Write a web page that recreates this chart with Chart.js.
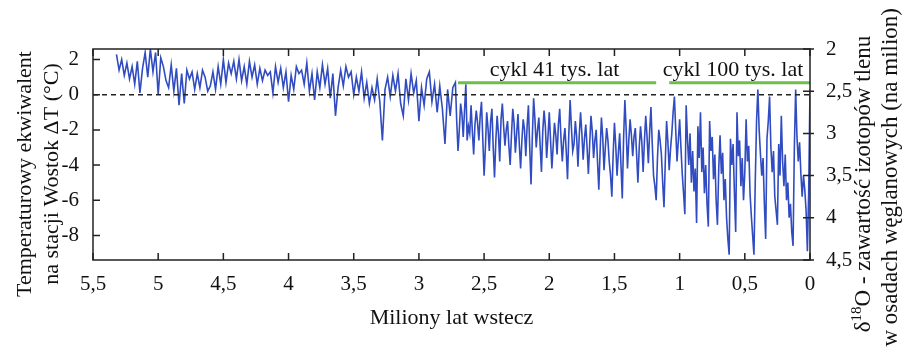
<!DOCTYPE html>
<html>
<head>
<meta charset="utf-8">
<script src="https://cdn.jsdelivr.net/npm/chart.js@4.4.0/dist/chart.umd.min.js"></script>
<style>
  html, body { margin: 0; padding: 0; background: #fff; }
  #wrap { width: 904px; height: 353px; }
</style>
</head>
<body>
<div id="wrap"><canvas id="chart"></canvas></div>
<script>
// Wiek (mln lat wstecz) i temperatura
const agesEarly = [
  5.32, 5.30, 5.28, 5.26, 5.24, 5.22,
  5.20, 5.18, 5.16, 5.14, 5.12,
  5.10, 5.08, 5.06, 5.04, 5.02,
  5.00, 4.98, 4.96, 4.94, 4.92,
  4.90, 4.88, 4.86, 4.84, 4.82,
  4.80, 4.78, 4.76, 4.74, 4.72,
  4.70, 4.68, 4.66, 4.64, 4.62,
  4.60, 4.58, 4.56, 4.54, 4.52,
  4.50, 4.48, 4.46, 4.44, 4.42,
  4.40, 4.38, 4.36, 4.34, 4.32,
  4.30, 4.28, 4.26, 4.24, 4.22,
  4.20, 4.18, 4.16, 4.14, 4.12,
  4.10, 4.08, 4.06, 4.04, 4.02,
  4.00, 3.98, 3.96, 3.94, 3.92,
  3.90, 3.88, 3.86, 3.84, 3.82,
  3.80, 3.78, 3.76, 3.74, 3.72,
  3.70, 3.68, 3.66, 3.64, 3.62,
  3.60, 3.58, 3.56, 3.54, 3.52,
  3.50, 3.48, 3.46, 3.44, 3.42,
  3.40, 3.38, 3.36, 3.34, 3.32,
  3.30, 3.28, 3.26, 3.24, 3.22,
  3.20, 3.18, 3.16, 3.14, 3.12,
  3.10, 3.08, 3.06, 3.04, 3.02,
  3.00, 2.98, 2.96, 2.94, 2.92,
  2.90, 2.88, 2.86, 2.84, 2.82,
  2.80, 2.78, 2.76, 2.74, 2.72
];
const tempsEarly = [
  2.3, 1.4, 2.0, 1.1, 1.8, 0.9,
  1.6, 0.6, 1.9, 0.1, 1.5,
  2.4, 1.0, 2.6, 1.3, 2.4,
  0.0, 2.1, 1.6, 0.8, 0.4,
  1.7, 0.2, 1.5, -0.6, 1.2,
  -0.5, 1.4, 0.9, 1.3, 0.3,
  1.2, 0.4, 1.4, 1.0, 0.2,
  0.5, 1.3, 0.3, 1.6, 0.6,
  2.0, 0.7, 1.8, 1.2, 1.9,
  0.9, 2.0, 0.8, 1.6, 0.6,
  1.9, 1.0, 1.7, 0.6, 1.5,
  0.8, 1.4, 1.1, 1.3, 0.1,
  1.6, 0.7, 1.5, 0.4, 1.3,
  -0.4, 1.1, 0.3, 1.6, 1.2,
  1.4, 0.6, 1.8, 0.2, 1.2,
  -0.3, 1.3, 0.4, 1.7, 0.6,
  1.5, -0.2, 1.2, -1.2, 0.4,
  1.4, 0.5, 1.6, 1.0, 1.3,
  0.0, 1.0, 0.2, 1.3, -0.2,
  0.7, -0.5, 0.4, -0.3, 0.9,
  -0.4, -2.6, 0.3, 1.0, -0.1,
  1.1, 0.2, 1.2, -0.5, -1.2,
  0.9, -0.3, 1.2, 0.1, 0.8,
  -1.5, 0.4, -0.6, 0.9, 1.3,
  -0.4, 0.6, -1.0, 0.5, -0.8,
  -2.8, 0.3, -1.2, 0.4, 0.7
];
const agesMid = [
  2.71, 2.70, 2.69, 2.68, 2.67, 2.66, 2.65, 2.64, 2.63, 2.62,
  2.61, 2.60, 2.59, 2.58, 2.57, 2.56, 2.55, 2.54, 2.53, 2.52,
  2.51, 2.50, 2.49, 2.48, 2.47, 2.46, 2.45, 2.44, 2.43, 2.42,
  2.41, 2.40, 2.39, 2.38, 2.37, 2.36, 2.35, 2.34, 2.33, 2.32,
  2.31, 2.30, 2.29, 2.28, 2.27, 2.26, 2.25, 2.24, 2.23, 2.22,
  2.21, 2.20, 2.19, 2.18, 2.17, 2.16, 2.15, 2.14, 2.13, 2.12,
  2.11, 2.10, 2.09, 2.08, 2.07, 2.06, 2.05, 2.04, 2.03, 2.02,
  2.01, 2.00, 1.99, 1.98, 1.97, 1.96, 1.95, 1.94, 1.93, 1.92,
  1.91, 1.90, 1.89, 1.88, 1.87, 1.86, 1.85, 1.84, 1.83, 1.82,
  1.81, 1.80, 1.79, 1.78, 1.77, 1.76, 1.75, 1.74, 1.73, 1.72,
  1.71, 1.70, 1.69, 1.68, 1.67, 1.66, 1.65, 1.64, 1.63, 1.62,
  1.61, 1.60, 1.59, 1.58, 1.57, 1.56, 1.55, 1.54, 1.53, 1.52,
  1.51, 1.50, 1.49, 1.48, 1.47, 1.46, 1.45, 1.44, 1.43, 1.42,
  1.41, 1.40, 1.39, 1.38, 1.37, 1.36, 1.35, 1.34, 1.33, 1.32,
  1.31, 1.30, 1.29, 1.28, 1.27, 1.26, 1.25, 1.24, 1.23, 1.22,
  1.21, 1.20, 1.19, 1.18, 1.17, 1.16, 1.15, 1.14, 1.13, 1.12,
  1.11, 1.10, 1.09, 1.08, 1.07, 1.06, 1.05, 1.04, 1.03, 1.02,
  1.01, 1.00
];
const tempsMid = [
  -1.5, -3.2, -2.0, -0.5, -1.1, -2.4, -0.9, 0.6, -2.6, -1.8,
  -2.2, -0.6, -2.1, -3.4, -1.7, -0.9, -1.6, -2.6, -1.2, -0.4,
  -2.5, -4.6, -3.0, -1.0, -1.9, -3.2, -1.5, -0.8, -3.0, -4.7,
  -2.6, -1.2, -2.2, -3.8, -1.4, -0.5, -1.8, -2.9, -2.0, -1.5,
  -2.9, -4.0, -2.3, -0.8, -1.6, -3.3, -2.2, -1.1, -2.8, -4.2,
  -2.6, -1.4, -2.0, -3.5, -1.8, -0.6, -3.0, -5.1, -2.4, -0.2,
  -1.4, -3.0, -2.0, -1.3, -2.9, -4.4, -2.1, -0.9, -1.8, -3.6,
  -2.4, -1.0, -2.6, -4.2, -2.9, -1.6, -2.3, -3.4, -1.7, -0.8,
  -2.5, -3.8, -2.6, -1.9, -3.2, -4.8, -2.2, -0.3, -1.9, -3.2,
  -2.8, -1.5, -2.4, -4.1, -2.3, -1.0, -2.2, -3.7, -2.5, -1.7,
  -3.0, -4.5, -2.8, -1.2, -2.1, -3.6, -2.6, -2.0, -3.8, -5.4,
  -3.2, -1.3, -2.4, -4.3, -3.0, -1.9, -2.6, -3.8, -4.6, -5.8,
  -3.4, -1.6, -2.9, -4.6, -3.3, -2.2, -4.0, -5.9, -2.5, -0.3,
  -2.0, -4.2, -2.6, -1.4, -2.3, -3.5, -2.4, -1.9, -3.4, -5.0,
  -3.0, -1.8, -2.7, -4.4, -2.6, -1.2, -2.4, -3.9, -2.1, -0.7,
  -2.8, -4.6, -5.2, -6.0, -3.6, -2.0, -2.6, -3.4, -5.0, -6.4,
  -3.8, -1.5, -2.7, -4.3, -3.1, -2.2, -1.0, -0.1, -2.0, -3.8,
  -2.6, -1.4
];
const agesLate = [
  0.99, 0.98, 0.97, 0.96, 0.95, 0.94, 0.93, 0.92, 0.91, 0.90,
  0.89, 0.88, 0.87, 0.86, 0.85, 0.84, 0.83, 0.82, 0.81, 0.80,
  0.79, 0.78, 0.77, 0.76, 0.75, 0.74, 0.73, 0.72, 0.71, 0.70,
  0.69, 0.68, 0.67, 0.66, 0.65, 0.64, 0.63, 0.62, 0.61, 0.60,
  0.59, 0.58, 0.57, 0.56, 0.55, 0.54, 0.53, 0.52, 0.51, 0.50,
  0.49, 0.48, 0.47, 0.46, 0.45, 0.44, 0.43, 0.42, 0.41, 0.40,
  0.39, 0.38, 0.37, 0.36, 0.35, 0.34, 0.33, 0.32, 0.31, 0.30,
  0.29, 0.28, 0.27, 0.26, 0.25, 0.24, 0.23, 0.22, 0.21, 0.20,
  0.19, 0.18, 0.17, 0.16, 0.15, 0.14, 0.13, 0.12, 0.11, 0.10,
  0.09, 0.08, 0.07, 0.06, 0.05, 0.04, 0.03, 0.02, 0.01, 0.00
];
const tempsLate = [
  -3.0, -4.5, -5.6, -6.8, -0.6, -2.5, -4.0, -2.2, -5.0, -3.2,
  -5.5, -4.2, -7.3, -1.8, -3.6, -1.0, -4.4, -3.0, -5.6, -4.0,
  -6.2, -7.5, -1.5, -3.2, -2.4, -4.8, -3.4, -6.0, -7.4, -4.2,
  -2.3, -4.5, -3.3, -6.0, -4.8, -7.0, -8.2, -9.1, -2.5, -4.0,
  -2.8, -5.5, -7.8, -1.0, -3.5, -2.6, -5.2, -3.6, -6.0, -4.4,
  -1.4, -3.8, -2.9, -5.6, -6.9, -8.0, -9.1, -5.0, -1.5, 0.3,
  -2.0, -3.4, -4.6, -3.6, -6.2, -8.2, -2.5, -1.5, -0.1, -3.0,
  -4.4, -3.2, -5.8, -6.6, -7.4, -2.8, -4.6, -1.2, -3.8, -5.2,
  -3.4, -6.0, -5.0, -7.0, -6.2, -7.8, -8.6, -3.0, 0.3, -2.4,
  -3.8, -2.7, -4.5, -5.8, -4.6, -5.4, -6.6, -8.9, -5.5, 0.3
];

// Osie
const ageTicks = [5.5, 5, 4.5, 4, 3.5, 3, 2.5, 2, 1.5, 1, 0.5, 0];
const tempTicks = [2, 0, -2, -4, -6, -8];
const isoTicks = [2, 2.5, 3, 3.5, 4, 4.5];

// Adnotacje
const zeroLevel = 0;
const cycleLevel = 0.68;
const cycles = [
  { label: 'cykl 41 tys. lat', from: 2.70, to: 1.18, textAt: 1.96 },
  { label: 'cykl 100 tys. lat', from: 1.08, to: 0, textAt: 0.59 }
];

const serif = "'Liberation Serif', 'Times New Roman', serif";
const fmt = v => String(v).replace('.', ',');

const ages = agesEarly.concat(agesMid, agesLate);
const temps = tempsEarly.concat(tempsMid, tempsLate);
if (ages.length !== temps.length) console.warn('length mismatch', ages.length, temps.length);
const series = ages.map((a, i) => ({ x: a, y: temps[i] }));

const overlay = {
  id: 'overlay',
  afterDatasetsDraw(chart) {
    const { ctx, chartArea: a, scales: { x, y, y2 } } = chart;
    ctx.save();

    // linia zera
    const y0 = y.getPixelForValue(zeroLevel);
    ctx.strokeStyle = '#222';
    ctx.lineWidth = 1.6;
    ctx.setLineDash([5, 4]);
    ctx.beginPath();
    ctx.moveTo(a.left, y0);
    ctx.lineTo(a.right, y0);
    ctx.stroke();
    ctx.setLineDash([]);

    // cykle
    const yc = y.getPixelForValue(cycleLevel);
    ctx.strokeStyle = '#6cc04a';
    ctx.lineWidth = 3;
    ctx.font = '22px ' + serif;
    ctx.fillStyle = '#111';
    ctx.textAlign = 'center';
    ctx.textBaseline = 'alphabetic';
    cycles.forEach(c => {
      ctx.beginPath();
      ctx.moveTo(x.getPixelForValue(c.from), yc);
      ctx.lineTo(x.getPixelForValue(c.to), yc);
      ctx.stroke();
      ctx.fillText(c.label, x.getPixelForValue(c.textAt), yc - 7);
    });

    // ramka i znaczniki do wewnatrz
    ctx.strokeStyle = '#222';
    ctx.lineWidth = 1.5;
    ctx.strokeRect(a.left, a.top, a.right - a.left, a.bottom - a.top);
    ctx.beginPath();
    x.ticks.forEach(t => {
      const px = x.getPixelForValue(t.value);
      ctx.moveTo(px, a.bottom); ctx.lineTo(px, a.bottom - 7);
      ctx.moveTo(px, a.top); ctx.lineTo(px, a.top + 7);
    });
    y.ticks.forEach(t => {
      const py = y.getPixelForValue(t.value);
      ctx.moveTo(a.left, py); ctx.lineTo(a.left + 7, py);
    });
    y2.ticks.forEach(t => {
      const py = y2.getPixelForValue(t.value);
      ctx.moveTo(a.right - 7, py); ctx.lineTo(a.right + 4, py);
    });
    ctx.stroke();

    // tytuly osi
    ctx.fillStyle = '#111';
    ctx.font = '22px ' + serif;
    ctx.textAlign = 'center';
    ctx.textBaseline = 'middle';
    ctx.fillText('Miliony lat wstecz', (a.left + a.right) / 2, 318);

    ctx.save();
    ctx.translate(25, 174);
    ctx.rotate(-Math.PI / 2);
    ctx.fillText('Temperaturowy ekwiwalent', 0, 0);
    ctx.restore();
    ctx.save();
    ctx.translate(52, 174);
    ctx.rotate(-Math.PI / 2);
    ctx.fillText('na stacji Wostok \u0394T (\u00B0C)', 0, 0);
    ctx.restore();

    // prawa os: delta 18O
    ctx.font = '23px ' + serif;
    ctx.save();
    ctx.translate(864, 184);
    ctx.rotate(-Math.PI / 2);
    ctx.textAlign = 'left';
    const p1 = '\u03B4', p2 = '18', p3 = 'O - zawarto\u015B\u0107 izotop\u00F3w tlenu';
    const w1 = ctx.measureText(p1).width;
    const w3 = ctx.measureText(p3).width;
    ctx.font = '15px ' + serif;
    const w2 = ctx.measureText(p2).width;
    let u = -(w1 + w2 + w3) / 2;
    ctx.font = '23px ' + serif;
    ctx.fillText(p1, u, 0);
    u += w1;
    ctx.font = '15px ' + serif;
    ctx.fillText(p2, u, -7);
    u += w2;
    ctx.font = '23px ' + serif;
    ctx.fillText(p3, u, 0);
    ctx.restore();

    ctx.save();
    ctx.translate(891, 8);
    ctx.rotate(-Math.PI / 2);
    ctx.textAlign = 'right';
    ctx.fillText('w osadach w\u0119glanowych (na milion)', 0, 0);
    ctx.restore();

    ctx.restore();
  }
};

const tickFont = { family: serif, size: 21 };

new Chart(document.getElementById('chart'), {
  type: 'line',
  data: {
    datasets: [{
      data: series,
      borderColor: 'rgb(48, 76, 192)',
      borderWidth: 1.6,
      pointRadius: 0,
      tension: 0,
      fill: false,
      xAxisID: 'x',
      yAxisID: 'y'
    }]
  },
  options: {
    responsive: true,
    maintainAspectRatio: false,
    animation: false,
    layout: { padding: { left: 0, right: 0, top: 49, bottom: 0 } },
    plugins: { legend: { display: false }, tooltip: { enabled: false } },
    scales: {
      x: {
        type: 'linear', min: 0, max: 5.5, reverse: true,
        afterBuildTicks: s => { s.ticks = ageTicks.map(v => ({ value: v })); },
        afterFit: s => { s.height = 93; },
        grid: { display: false }, border: { display: false },
        ticks: { font: tickFont, color: '#111', padding: 4, maxRotation: 0, autoSkip: false, callback: fmt }
      },
      y: {
        type: 'linear', position: 'left', min: -9.4, max: 2.6,
        afterBuildTicks: s => { s.ticks = tempTicks.map(v => ({ value: v })); },
        afterFit: s => { s.width = 93; },
        grid: { display: false }, border: { display: false },
        ticks: { font: tickFont, color: '#111', padding: 6, callback: fmt }
      },
      y2: {
        type: 'linear', position: 'right', min: 2, max: 4.5, reverse: true,
        afterBuildTicks: s => { s.ticks = isoTicks.map(v => ({ value: v })); },
        afterFit: s => { s.width = 94; },
        grid: { display: false }, border: { display: false },
        ticks: { font: tickFont, color: '#111', padding: 8, callback: fmt }
      }
    }
  },
  plugins: [overlay]
});
</script>
</body>
</html>
